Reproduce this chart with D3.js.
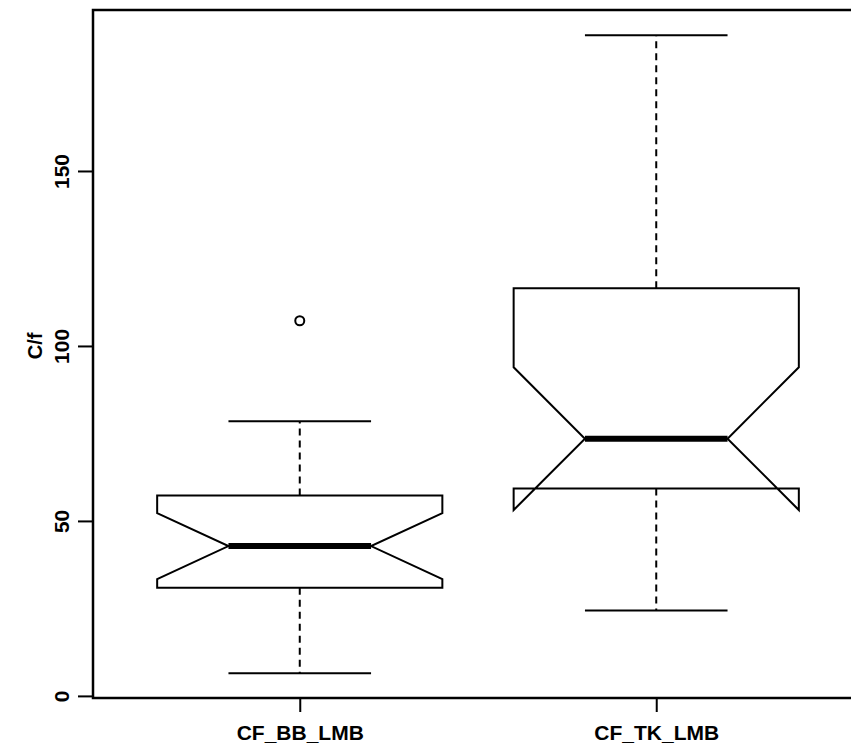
<!DOCTYPE html>
<html>
<head>
<meta charset="utf-8">
<script src="https://cdn.jsdelivr.net/npm/d3@7"></script>
<style>
  body { margin: 0; background: #fff; }
  svg { display: block; }
  text { font-family: "Liberation Sans", Arial, sans-serif; font-weight: bold; }
</style>
</head>
<body>
<div id="chart"></div>
<script>
// boxplot stats
const categories = ['CF_BB_LMB', 'CF_TK_LMB'];
const lowerWhisker = [6.5, 24.4];
const q1 = [30.9, 59.3];
const median = [42.8, 73.5];
const q3 = [57.3, 116.5];
const upperWhisker = [78.5, 188.8];
const notchLow = [33.4, 53.1];
const notchHigh = [52.2, 93.9];
const outliers = [[107.2], []];
const yTicks = [0, 50, 100, 150];

const width = 851, height = 748;

const x = d3.scaleLinear()
  .domain([0.42, 2.58])
  .range([93, 863]);

const y = d3.scaleLinear()
  .domain([-0.6, 196])
  .range([698, 10]);

const svg = d3.select('#chart').append('svg')
  .attr('width', width)
  .attr('height', height);

const boxHalf = 0.4, stapleHalf = 0.2, notchHalf = 0.2;

const data = categories.map((c, i) => ({
  name: c, pos: i + 1,
  lo: lowerWhisker[i], q1: q1[i], med: median[i], q3: q3[i], hi: upperWhisker[i],
  nl: notchLow[i], nh: notchHigh[i], out: outliers[i]
}));

const g = svg.selectAll('g.box')
  .data(data)
  .enter().append('g')
  .attr('class', 'box');

// whiskers
g.append('line')
  .attr('x1', d => x(d.pos)).attr('x2', d => x(d.pos))
  .attr('y1', d => y(d.q3)).attr('y2', d => y(d.hi))
  .attr('stroke', '#000').attr('stroke-width', 2).attr('stroke-dasharray', '7,5');
g.append('line')
  .attr('x1', d => x(d.pos)).attr('x2', d => x(d.pos))
  .attr('y1', d => y(d.q1)).attr('y2', d => y(d.lo))
  .attr('stroke', '#000').attr('stroke-width', 2).attr('stroke-dasharray', '7,5');

// staples
g.append('line')
  .attr('x1', d => x(d.pos - stapleHalf)).attr('x2', d => x(d.pos + stapleHalf))
  .attr('y1', d => y(d.hi)).attr('y2', d => y(d.hi))
  .attr('stroke', '#000').attr('stroke-width', 2);
g.append('line')
  .attr('x1', d => x(d.pos - stapleHalf)).attr('x2', d => x(d.pos + stapleHalf))
  .attr('y1', d => y(d.lo)).attr('y2', d => y(d.lo))
  .attr('stroke', '#000').attr('stroke-width', 2);

// notched box
g.append('path')
  .attr('d', d => {
    const L = x(d.pos - boxHalf), R = x(d.pos + boxHalf);
    const Li = x(d.pos - notchHalf), Ri = x(d.pos + notchHalf);
    return d3.line()([
      [L, y(d.q3)], [R, y(d.q3)], [R, y(d.nh)], [Ri, y(d.med)], [R, y(d.nl)], [R, y(d.q1)],
      [L, y(d.q1)], [L, y(d.nl)], [Li, y(d.med)], [L, y(d.nh)]
    ]) + 'Z';
  })
  .attr('fill', 'none').attr('stroke', '#000').attr('stroke-width', 2)
  .attr('stroke-linejoin', 'miter');

// median
g.append('line')
  .attr('x1', d => x(d.pos - notchHalf)).attr('x2', d => x(d.pos + notchHalf))
  .attr('y1', d => y(d.med)).attr('y2', d => y(d.med))
  .attr('stroke', '#000').attr('stroke-width', 6);

// outliers
g.selectAll('circle')
  .data(d => d.out.map(v => ({ pos: d.pos, v: v })))
  .enter().append('circle')
  .attr('cx', d => x(d.pos)).attr('cy', d => y(d.v))
  .attr('r', 4.5)
  .attr('fill', 'none').attr('stroke', '#000').attr('stroke-width', 2);

// frame
svg.append('rect')
  .attr('x', x(0.42)).attr('y', y(196))
  .attr('width', x(2.58) - x(0.42)).attr('height', y(-0.6) - y(196))
  .attr('fill', 'none').attr('stroke', '#000').attr('stroke-width', 2.5);

// y axis
const yAxis = svg.append('g')
  .attr('transform', 'translate(' + x(0.42) + ',0)')
  .call(d3.axisLeft(y).tickValues(yTicks).tickSize(15).tickPadding(8));
yAxis.select('.domain').remove();
yAxis.selectAll('.tick line').attr('stroke', '#000').attr('stroke-width', 2);
yAxis.selectAll('.tick text')
  .attr('font-size', 21)
  .attr('fill', '#000')
  .attr('x', 0).attr('dy', 0)
  .attr('transform', 'translate(-24,0) rotate(-90)')
  .attr('text-anchor', 'middle');

// x axis
const xAxis = svg.append('g')
  .attr('transform', 'translate(0,' + y(-0.6) + ')')
  .call(d3.axisBottom(x).tickValues([1, 2]).tickFormat((d, i) => categories[i]).tickSize(14).tickPadding(13));
xAxis.select('.domain').remove();
xAxis.selectAll('.tick line').attr('stroke', '#000').attr('stroke-width', 2);
xAxis.selectAll('.tick text')
  .attr('font-size', 21)
  .attr('fill', '#000');

// y label
svg.append('text')
  .attr('transform', 'translate(42,' + y(100) + ') rotate(-90)')
  .attr('text-anchor', 'middle')
  .attr('font-size', 20)
  .text('C/f');
</script>
</body>
</html>
